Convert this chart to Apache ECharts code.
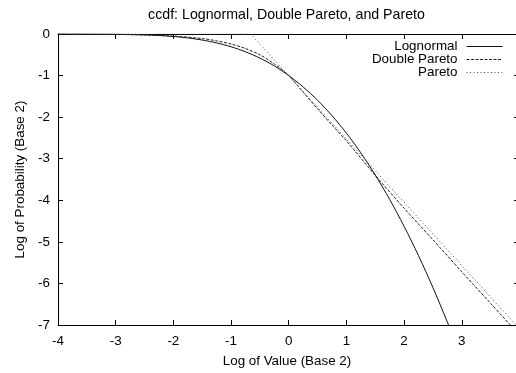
<!DOCTYPE html>
<html><head><meta charset="utf-8">
<script src="https://cdn.jsdelivr.net/npm/echarts@6/dist/echarts.min.js"></script>
<style>html,body{margin:0;padding:0;background:#fff;overflow:hidden}#c{width:516px;height:373px}</style>
</head><body><div id="c"></div>
<script>
// ---- data ----
const titleText = 'ccdf: Lognormal, Double Pareto, and Pareto';
const xAxisName = 'Log of Value (Base 2)';
const yAxisName = 'Log of Probability (Base 2)';
const seriesNames = ['Lognormal', 'Double Pareto', 'Pareto'];

const lognormalX = [-4, -3.5, -3, -2.5, -2.25, -2, -1.75, -1.5, -1.25, -1, -0.75, -0.5, -0.25, 0, 0.25, 0.5, 0.75, 1, 1.25, 1.5, 1.75, 2, 2.25, 2.5, 2.75, 2.9];
const lognormalY = [0, -0.002, -0.006, -0.02, -0.036, -0.06, -0.094, -0.145, -0.214, -0.307, -0.428, -0.58, -0.767, -1.0, -1.274, -1.594, -1.964, -2.385, -2.86, -3.392, -3.979, -4.626, -5.333, -6.099, -6.93, -7.45];

const doubleParetoX = [-4, -3, -2.5, -2, -1.5, -1.25, -1, -0.75, -0.5, -0.25, 0, 0.25, 0.5, 0.75, 1, 1.5, 2, 2.5, 3, 3.5, 3.9];
const doubleParetoY = [0, -0.01, -0.025, -0.05, -0.11, -0.165, -0.24, -0.35, -0.5, -0.72, -1.0, -1.4, -1.8, -2.19, -2.57, -3.4, -4.19, -4.95, -5.72, -6.48, -7.09];

const paretoX = [-4, -0.66, 3.94];
const paretoY = [0, 0, -7];

// visible x extent of the (cropped) plot frame
const xMin = -4, xMax = 3.94, xStep = 1;
const yMin = -7, yMax = 0, yStep = 1;

const FONT = 'Liberation Sans, Arial, Helvetica, sans-serif';
const FS = 13.4;

function pairs(xs, ys) { return xs.map((x, i) => [x, ys[i]]); }

const chart = echarts.init(document.getElementById('c'), null, {renderer: 'canvas'});

const axisLineStyle = {color: '#000', width: 1};
const tickCommon = {show: true, inside: true, length: 5, lineStyle: {color: '#000', width: 1}};

const legendBase = {
  right: 13, orient: 'horizontal', align: 'right', padding: 0,
  itemWidth: 36, itemHeight: 10, itemGap: 0,
  textStyle: {fontFamily: FONT, fontSize: FS, color: '#000', padding: [0, 4, 0, 0]},
  itemStyle: {opacity: 0},
  lineStyle: {width: 1},
  selectedMode: false
};

chart.setOption({
  animation: false,
  backgroundColor: '#fff',
  graphic: [{
    type: 'text', x: 286.5, y: 15,
    style: {text: titleText, fontFamily: FONT, fontSize: 14.2, fill: '#000', textAlign: 'center', textVerticalAlign: 'middle'}
  }],
  legend: [
    Object.assign({}, legendBase, {data: [seriesNames[0]], top: 40}),
    Object.assign({}, legendBase, {data: [seriesNames[1]], top: 53}),
    Object.assign({}, legendBase, {data: [seriesNames[2]], top: 66})
  ],
  grid: {left: 58, top: 34, right: 0, bottom: 45, containLabel: false},
  xAxis: [
    {
      type: 'value', min: xMin, max: xMax, interval: xStep, position: 'bottom',
      name: xAxisName, nameLocation: 'middle', nameGap: 30,
      nameTextStyle: {fontFamily: FONT, fontSize: FS, color: '#000'},
      axisLine: {show: true, onZero: false, lineStyle: axisLineStyle},
      axisTick: tickCommon,
      axisLabel: {fontFamily: FONT, fontSize: FS, color: '#000', margin: 10, showMaxLabel: false},
      splitLine: {show: false}
    },
    {
      type: 'value', min: xMin, max: xMax, interval: xStep, position: 'top',
      axisLine: {show: true, onZero: false, lineStyle: axisLineStyle},
      axisTick: tickCommon, axisLabel: {show: false}, splitLine: {show: false}
    }
  ],
  yAxis: [
    {
      type: 'value', min: yMin, max: yMax, interval: yStep, position: 'left',
      name: yAxisName, nameLocation: 'middle', nameGap: 30, nameRotate: 90,
      nameTextStyle: {fontFamily: FONT, fontSize: FS, color: '#000'},
      axisLine: {show: true, onZero: false, lineStyle: axisLineStyle},
      axisTick: tickCommon,
      axisLabel: {fontFamily: FONT, fontSize: FS, color: '#000', margin: 8},
      splitLine: {show: false}
    },
    {
      type: 'value', min: yMin, max: yMax, interval: yStep, position: 'right',
      axisLine: {show: false, onZero: false},
      axisTick: {show: true, inside: true, length: 2, lineStyle: {color: '#000', width: 1}},
      axisLabel: {show: false}, splitLine: {show: false}
    }
  ],
  series: [
    {
      name: seriesNames[0], type: 'line', xAxisIndex: 0, yAxisIndex: 0,
      data: pairs(lognormalX, lognormalY), symbol: 'none', smooth: 0.3,
      lineStyle: {color: '#111', width: 1, type: 'solid'}, itemStyle: {color: '#111'}, clip: true
    },
    {
      name: seriesNames[1], type: 'line', xAxisIndex: 0, yAxisIndex: 0,
      data: pairs(doubleParetoX, doubleParetoY), symbol: 'none', smooth: 0.3,
      lineStyle: {color: '#222', width: 1, type: [3, 1.5]}, itemStyle: {color: '#222'}, clip: true
    },
    {
      name: seriesNames[2], type: 'line', xAxisIndex: 0, yAxisIndex: 0,
      data: pairs(paretoX, paretoY), symbol: 'none',
      lineStyle: {color: '#444', width: 1, type: [1, 2.5]}, itemStyle: {color: '#444'}, clip: true
    }
  ]
});
</script></body></html>
